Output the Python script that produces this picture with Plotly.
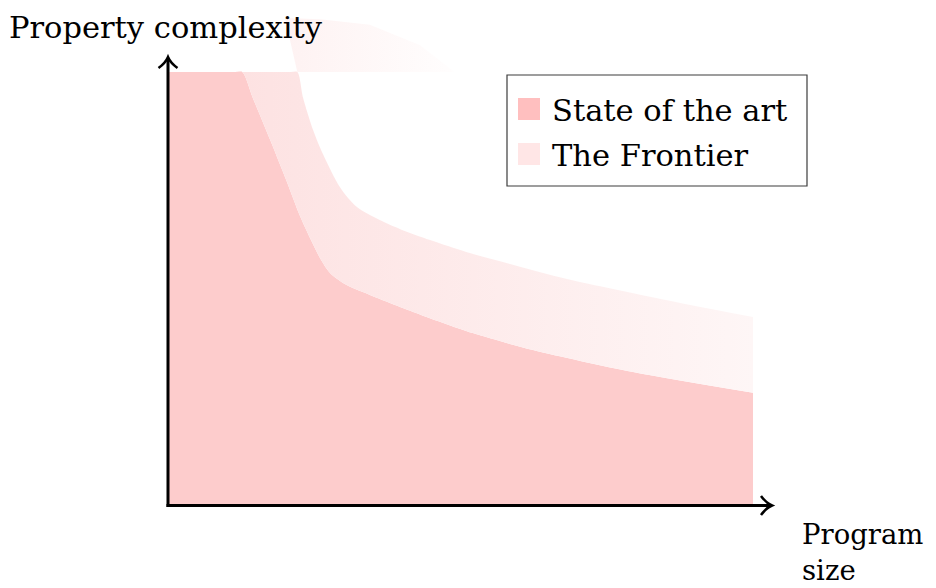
import plotly.graph_objects as go

# ---- data ----
state_x = [0, 1.15, 1.27, 1.45, 1.74, 2.03, 2.26, 2.45, 2.6, 2.77, 3.03, 3.33, 4.19, 5.21, 6.24, 7.95, 10]
state_y = [10, 10, 10, 9.4, 8.45, 7.47, 6.66, 6.1, 5.7, 5.36, 5.1, 4.92, 4.46, 3.97, 3.58, 3.07, 2.59]

frontier_x = [1.27, 2.1, 2.21, 2.31, 2.48, 2.65, 2.94, 3.23, 3.62, 3.97, 4.48, 5.11, 5.97, 6.82, 8.53, 10]
frontier_y = [10, 10, 10, 9.4, 8.66, 8.1, 7.34, 6.88, 6.58, 6.37, 6.12, 5.84, 5.52, 5.22, 4.73, 4.34]

# faint part of the frontier that escapes above the plot top
top_x = [2.21, 4.9, 4.31, 3.45, 2.6, 2.0]
top_y = [10, 10, 10.62, 11.09, 11.22, 11.25]

legend_labels = ["State of the art", "The Frontier"]
x_label = ["Program", "size"]
y_label = "Property complexity"

# ---- geometry helpers (reference pixels -> paper); page has an 8px body margin ----
OFF = 8
W, H = 936 - OFF, 588 - OFF
ML, MR, MT, MB = 168 - OFF, 154, 0, 83
PW, PH = W - ML - MR, H - MT - MB
def px(x):
    return (x - OFF - ML) / PW
def py(y):
    return (H - MB - (y - OFF)) / PH

FONT = "DejaVu Serif"
FS = 30.5
STATE_COL = "rgb(253,204,204)"

fig = go.Figure()

fig.add_trace(go.Scatter(
    x=state_x, y=state_y, mode="lines", line=dict(width=0, shape="spline", smoothing=0.8),
    fill="tozeroy", fillcolor=STATE_COL, showlegend=False, hoverinfo="skip"))

fig.add_trace(go.Scatter(
    x=frontier_x, y=frontier_y, mode="lines",
    line=dict(width=0, shape="spline", smoothing=0.8), fill="tonexty",
    fillgradient=dict(type="horizontal", start=1.3, stop=10,
                      colorscale=[[0, "rgb(253,226,226)"], [1, "rgb(254,246,246)"]]),
    showlegend=False, hoverinfo="skip"))

fig.add_trace(go.Scatter(
    x=top_x, y=top_y, mode="lines", line=dict(width=0), fill="toself",
    fillgradient=dict(type="horizontal", start=2.0, stop=5.0,
                      colorscale=[[0, "rgb(254,242,242)"], [1, "rgb(255,254,254)"]]),
    showlegend=False, hoverinfo="skip"))

shapes = []
# axes
shapes.append(dict(type="line", xref="paper", yref="paper", x0=px(166.5), y0=py(505.5),
                   x1=px(771), y1=py(505.5), line=dict(color="black", width=3)))
shapes.append(dict(type="line", xref="paper", yref="paper", x0=px(168), y0=py(507),
                   x1=px(168), y1=py(59), line=dict(color="black", width=3)))
# arrow heads
shapes.append(dict(type="path", xref="paper", yref="paper",
                   path=f"M {px(761)},{py(496)} Q {px(766)},{py(503)} {px(772)},{py(505.5)} Q {px(766)},{py(508)} {px(761)},{py(515)}",
                   line=dict(color="black", width=2.5)))
shapes.append(dict(type="path", xref="paper", yref="paper",
                   path=f"M {px(158.5)},{py(68)} Q {px(165.5)},{py(63)} {px(168)},{py(57)} Q {px(170.5)},{py(63)} {px(177.5)},{py(68)}",
                   line=dict(color="black", width=2.5)))
# legend box
shapes.append(dict(type="rect", xref="paper", yref="paper", x0=px(507), y0=py(75),
                   x1=px(807), y1=py(186), line=dict(color="rgb(60,60,60)", width=1.2),
                   fillcolor="white"))
shapes.append(dict(type="rect", xref="paper", yref="paper", x0=px(518), y0=py(98),
                   x1=px(540), y1=py(120), line=dict(width=0), fillcolor="rgb(255,191,191)"))
shapes.append(dict(type="rect", xref="paper", yref="paper", x0=px(518), y0=py(143),
                   x1=px(540), y1=py(165), line=dict(width=0), fillcolor="rgb(255,230,230)"))

annotations = [
    dict(text=legend_labels[0], x=px(550), y=py(110), xanchor="left", yanchor="middle"),
    dict(text=legend_labels[1], x=px(550), y=py(155), xanchor="left", yanchor="middle"),
    dict(text=y_label, x=px(7), y=1.0, xanchor="left", yanchor="top"),
]
for a in annotations:
    a.update(xref="paper", yref="paper", showarrow=False,
             font=dict(family=FONT, size=FS, color="black"))
annotations.append(dict(text="<br>".join(x_label), x=px(800), y=py(588), xanchor="left",
                        yanchor="bottom", align="left", xref="paper", yref="paper",
                        showarrow=False, font=dict(family=FONT, size=27.5, color="black")))

fig.update_layout(
    width=W, height=H,
    margin=dict(l=ML, r=MR, t=MT, b=MB),
    paper_bgcolor="white", plot_bgcolor="white",
    xaxis=dict(range=[0, PW / 58.5], visible=False, fixedrange=True),
    yaxis=dict(range=[0, PH / 43.3], visible=False, fixedrange=True),
    shapes=shapes, annotations=annotations, showlegend=False,
)

fig.write_html("out.html")
